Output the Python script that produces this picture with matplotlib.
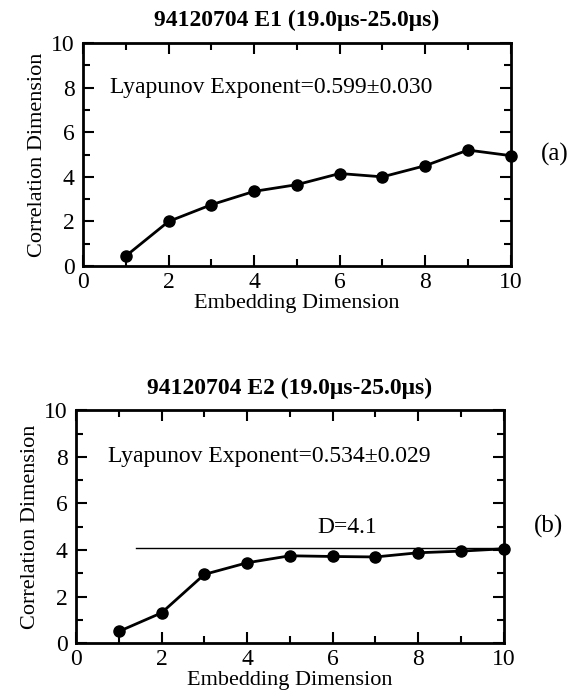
import matplotlib
matplotlib.use("Agg")
import matplotlib.pyplot as plt
from matplotlib.ticker import MultipleLocator

plt.rcParams['font.family'] = ['Liberation Serif', 'DejaVu Serif']
plt.rcParams['mathtext.fontset'] = 'stix'

embed = [1, 2, 3, 4, 5, 6, 7, 8, 9, 10]
corr_e1 = [0.45, 2.0, 2.75, 3.35, 3.65, 4.15, 4.0, 4.5, 5.2, 4.95]
corr_e2 = [0.5, 1.3, 2.95, 3.45, 3.75, 3.72, 3.7, 3.88, 3.95, 4.05]
d_value = 4.1
d_start = 1.4
titles = ["94120704 E1 (19.0\u03bcs-25.0\u03bcs)", "94120704 E2 (19.0\u03bcs-25.0\u03bcs)"]
lyap = ["Lyapunov Exponent=0.599\u00b10.030", "Lyapunov Exponent=0.534\u00b10.029"]
lyap_x = [0.63, 0.75]
panel_labels = ["(a)", "(b)"]

fig = plt.figure(figsize=(5.86, 6.93), dpi=100)
ax1 = fig.add_axes([0.1416, 0.6160, 0.730, 0.322])
ax2 = fig.add_axes([0.1297, 0.072, 0.730, 0.336])

for ax, y, title, lt, lx, pl in zip([ax1, ax2], [corr_e1, corr_e2], titles, lyap, lyap_x, panel_labels):
    ax.plot(embed, y, color='black', lw=2, marker='o', ms=8, clip_on=False, zorder=5)
    ax.set_xlim(0, 10)
    ax.set_ylim(0, 10)
    ax.xaxis.set_major_locator(MultipleLocator(2))
    ax.xaxis.set_minor_locator(MultipleLocator(1))
    ax.yaxis.set_major_locator(MultipleLocator(2))
    ax.yaxis.set_minor_locator(MultipleLocator(1))
    ax.tick_params(which='both', direction='in', top=True, right=True, width=1.5, labelsize=17)
    ax.tick_params(axis='x', pad=4)
    ax.tick_params(axis='y', pad=6)
    ax.tick_params(which='major', length=8)
    ax.tick_params(which='minor', length=5)
    for s in ax.spines.values():
        s.set_linewidth(2)
    ax.set_title(title, fontsize=17, fontweight='bold', pad=12)
    ax.set_xlabel("Embedding Dimension", fontsize=16, labelpad=1)
    ax.set_ylabel("Correlation Dimension", fontsize=16, labelpad=3)
    ax.text(lx, 8, lt, fontsize=17, va='center', ha='left')
    ax.text(1.07, 0.5, pl, transform=ax.transAxes, fontsize=18, va='center', ha='left')

ax2.plot([d_start, 10], [d_value, d_value], color='black', lw=1)
ax2.text(5.65, 4.5, "D=4.1", fontsize=17, va='bottom', ha='left')

fig.savefig("out.png", dpi=100)
